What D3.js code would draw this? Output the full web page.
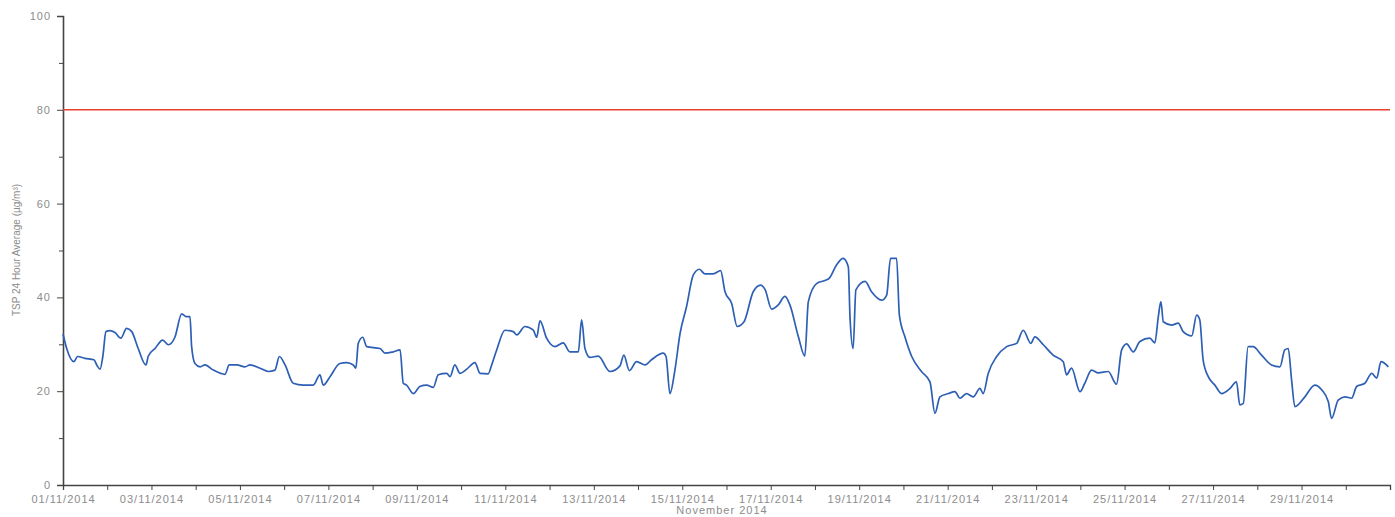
<!DOCTYPE html>
<html>
<head>
<meta charset="utf-8">
<script src="https://cdn.jsdelivr.net/npm/d3@7"></script>
<style>
  body { margin: 0; background: #fff; }
  svg { display: block; }
  .axis text { font-family: "Liberation Sans", Arial, sans-serif; font-size: 11px; fill: #8c8c8c; letter-spacing: 1px; }
  .axis path, .axis line { stroke: #444; }
</style>
</head>
<body>
<svg id="chart" width="1395" height="517"></svg>
<script>
// hours since 01/11/2014 00:00
var hours = [0, 2.0, 5.9, 7.9, 11.9, 16.8, 18.3, 20.1, 21.6, 23.3, 25.5, 28.2, 31.4, 34.5, 37.3, 40.8, 45.0, 46.3,
  49.9, 54.1, 57.2, 60.7, 64.4, 66.8, 68.9, 69.8, 71.6, 74.4, 77.0, 81.6, 87.9, 90.2, 94.3, 98.7,
  101.5, 106.9, 111.4, 115.0, 117.4, 120.5, 124.9, 130.4, 135.8, 139.4, 141.2, 144.9, 150.2, 153.9,
  157.5, 158.9, 160.2, 162.6, 164.8, 172.0, 174.7, 179.2, 182.9, 184.6, 186.4, 190.1, 193.6, 197.3,
  200.9, 203.6, 208.2, 210.0, 212.6, 215.4, 219.1, 223.5, 226.3, 230.7, 232.6, 235.3, 239.8, 244.3,
  246.2, 250.6, 255.2, 257.0, 258.8, 262.4, 266.9, 271.4, 275.0, 279.6, 281.4, 283.2, 285.9, 290.4,
  296.8, 302.2, 304.3, 307.3, 311.2, 315.8, 319.3, 325.7, 327.2, 329.3, 332.0, 334.8, 338.3, 342.0,
  345.3, 348.3, 352.8, 356.8, 359.2, 362.8, 365.8, 369.5, 374.5, 378.5, 380.9, 384.5, 388.1, 391.7,
  394.4, 399.0, 402.5, 404.4, 409.0, 413.4, 415.8, 419.7, 423.3, 426.1, 427.0, 428.7, 430.2, 435.2, 438.7,
  444.2, 446.9, 449.0, 452.3, 453.8, 456.8, 460.5, 465.8, 470.4, 473.1, 475.8, 480.4, 483.9, 486.7,
  490.2, 493.9, 497.5, 499.3, 502.0, 506.6, 512.0, 517.4, 521.0, 525.1, 527.3, 531.9, 537.2, 542.7,
  544.5, 547.2, 551.8, 554.4, 558.1, 561.7, 567.1, 571.6, 574.4, 577.1, 580.7, 584.3, 589.7, 592.4,
  594.3, 595.7, 597.0, 601.5, 605.1, 607.8, 612.4, 615.1, 616.8, 618.6, 621.4, 625.0, 628.6, 633.2,
  636.7, 638.5, 640.4, 643.0, 645.7, 650.3, 655.7, 660.3, 662.9, 664.8, 666.6, 668.4, 673.8, 679.2,
  682.9, 686.5, 688.3, 691.9, 695.6, 699.2, 701.9, 706.4, 710.1, 712.8, 715.1, 719.1];

var tsp = [32.2, 29.1, 26.3, 27.4, 27.0, 26.7, 25.6, 24.7, 27.4, 32.7, 32.9, 32.5, 31.3, 33.4, 32.7, 29.1, 25.6, 27.5,
  29.1, 30.9, 29.9, 31.5, 36.5, 35.9, 35.9, 29.5, 25.9, 25.2, 25.6, 24.5, 23.6, 25.6, 25.6, 25.2,
  25.6, 24.9, 24.2, 24.5, 27.4, 25.6, 21.7, 21.3, 21.3, 23.5, 21.3, 23.1, 25.9, 26.1,
  25.6, 24.9, 30.2, 31.5, 29.5, 29.1, 28.1, 28.4, 28.8, 21.7, 21.3, 19.5, 21.0, 21.3,
  20.8, 23.5, 23.8, 23.1, 25.6, 23.8, 24.7, 26.1, 23.8, 23.7, 25.6, 28.8, 33.0, 32.7,
  32.0, 33.8, 33.0, 31.5, 35.0, 31.3, 29.5, 30.3, 28.4, 28.4, 35.2, 29.1, 27.2, 27.5,
  24.2, 25.4, 27.7, 24.4, 26.3, 25.6, 26.7, 28.1, 27.4, 19.5, 24.5, 32.3, 38.0, 44.8,
  46.0, 45.0, 45.0, 45.7, 41.2, 38.7, 33.8, 34.8, 41.2, 42.6, 41.7, 37.5, 38.4, 40.2,
  38.4, 31.6, 27.5, 39.1, 43.0, 43.6, 44.1, 46.9, 48.3, 46.5, 35.9, 29.1, 41.6, 43.4, 41.2,
  39.4, 40.5, 48.3, 48.3, 36.2, 31.6, 27.4, 24.2, 22.0, 15.3, 18.8, 19.5, 19.9, 18.5,
  19.5, 18.8, 20.6, 19.5, 23.8, 27.4, 29.5, 30.2, 33.0, 30.2, 31.6, 29.9, 27.7, 26.3,
  23.5, 24.9, 19.9, 21.7, 24.5, 23.9, 24.2, 21.5, 28.8, 30.1, 28.4, 30.6, 31.3, 30.3,
  35.9, 39.1, 34.8, 34.1, 34.5, 32.7, 31.8, 36.2, 35.2, 26.7, 23.1, 21.3, 19.5, 20.6,
  22.0, 17.1, 17.4, 29.5, 29.5, 27.7, 25.6, 25.2, 28.8, 29.1, 22.4, 16.7, 18.8, 21.3,
  20.3, 17.8, 14.2, 18.1, 18.8, 18.5, 21.0, 21.7, 23.8, 22.8, 26.3, 25.2];

var criterion = 80;
var yTicks = [0, 20, 40, 60, 80, 100];
var yMinorTicks = [10, 30, 50, 70, 90];
var xTitle = "November 2014";
var yTitle = "TSP 24 Hour Average (\u00b5g/m\u00b3)";

var svg = d3.select("#chart");
var start = new Date(2014, 10, 1);
var end = new Date(2014, 11, 1);
var hourMs = 3600 * 1000;

var x = d3.scaleTime().domain([start, end]).range([63, 1390]);
var y = d3.scaleLinear().domain([0, 100]).range([485, 16]);

var data = hours.map(function(h, i) {
  return { t: new Date(start.getTime() + h * hourMs), v: tsp[i] };
});

// y axis
var yAxis = svg.append("g").attr("class", "axis").attr("transform", "translate(63,0)")
  .call(d3.axisLeft(y).tickValues(yTicks).tickSize(6).tickPadding(6));
yAxis.select(".domain").attr("stroke-width", 1.6);
svg.append("g").attr("class", "axis").attr("transform", "translate(63,0)")
  .call(d3.axisLeft(y).tickValues(yMinorTicks).tickSize(4).tickFormat(""))
  .select(".domain").remove();

// x axis: daily ticks, labels every 2 days
var fmt = d3.timeFormat("%d/%m/%Y");
var days = d3.timeDay.range(start, end);
var xAxis = svg.append("g").attr("class", "axis").attr("transform", "translate(0,485)")
  .call(d3.axisBottom(x).tickValues(days).tickSize(5).tickPadding(5)
    .tickFormat(function(d, i) { return i % 2 === 0 ? fmt(d) : ""; }));
xAxis.select(".domain").attr("stroke-width", 1.3).attr("stroke", "#555");

// titles
svg.append("text")
  .attr("transform", "translate(20,250) rotate(-90)")
  .attr("text-anchor", "middle")
  .style("font-family", "Liberation Sans, Arial, sans-serif")
  .style("font-size", "10px").style("fill", "#8c8c8c")
  .text(yTitle);
svg.append("text")
  .attr("x", 722).attr("y", 514)
  .attr("text-anchor", "middle")
  .style("font-family", "Liberation Sans, Arial, sans-serif")
  .style("font-size", "11px").style("letter-spacing", "1px").style("fill", "#8c8c8c")
  .text(xTitle);

// criterion line
svg.append("line")
  .attr("x1", x(start)).attr("x2", x(end))
  .attr("y1", y(criterion)).attr("y2", y(criterion))
  .attr("stroke", "#e8402a").attr("stroke-width", 1.6);

// TSP line
var line = d3.line().curve(d3.curveMonotoneX)
  .x(function(d) { return x(d.t); }).y(function(d) { return y(d.v); });
svg.append("path").datum(data)
  .attr("fill", "none")
  .attr("stroke", "#2d5fb4")
  .attr("stroke-width", 1.7)
  .attr("stroke-linejoin", "round")
  .attr("d", line);
</script>
</body>
</html>
